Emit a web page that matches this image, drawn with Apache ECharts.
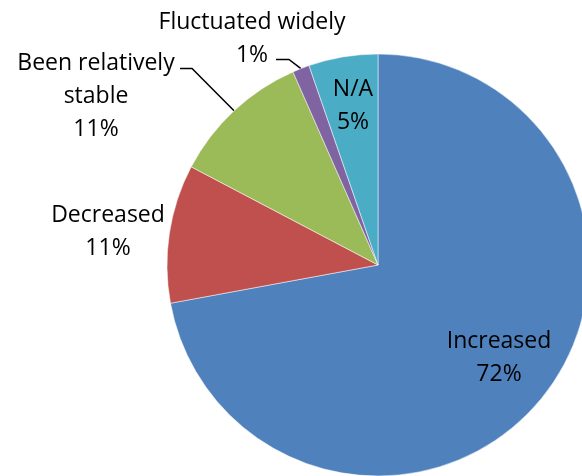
<!DOCTYPE html>
<html>
<head>
<meta charset="utf-8">
<script src="https://cdn.jsdelivr.net/npm/echarts@6/dist/echarts.min.js"></script>
<style>
html,body{margin:0;padding:0;background:#fff;}
#chart{width:582px;height:476px;}
</style>
</head>
<body>
<div id="chart"></div>
<script>
// ---- data ----
const categories = ['Increased', 'Decreased', 'Been relatively stable', 'Fluctuated widely', 'N/A'];
const labelNames = ['Increased', 'Decreased', 'Been relatively\nstable', 'Fluctuated widely', 'N/A'];
const shares = [72.1, 10.6, 10.7, 1.3, 5.3];
const colors = ['#4F81BD', '#C0504D', '#9BBB59', '#8064A2', '#4BACC6'];
const withLine = [false, false, true, true, false];

// label placement (text block centres) and leader-line bends, relative offsets
const labelPos = {
  'Increased': [499, 358],
  'Decreased': [108, 232],
  'Been relatively stable': [96, 96.5],
  'Fluctuated widely': [252, 38.5],
  'N/A': [353, 105.5]
};
const lineBends = {
  'Been relatively stable': [[-42, -42], [-54, -42]],
  'Fluctuated widely': [[-12, -9], [-25, -9]]
};

const crisp = v => Math.round(v - 0.5) + 0.5;

const chart = echarts.init(document.getElementById('chart'), null, {renderer: 'canvas'});
const seriesData = categories.map((c, i) => ({
  name: c,
  value: shares[i],
  itemStyle: {color: colors[i]},
  labelLine: {show: withLine[i]}
}));

chart.setOption({
  animation: false,
  backgroundColor: '#fff',
  series: [{
    type: 'pie',
    center: [378, 265],
    radius: [0, 211],
    startAngle: 90,
    clockwise: true,
    avoidLabelOverlap: false,
    data: seriesData,
    itemStyle: {borderColor: '#ffffff', borderWidth: 0.5},
    label: {
      show: true,
      position: 'outside',
      fontFamily: '"Open Sans", "Noto Sans", sans-serif',
      fontSize: 23,
      lineHeight: 33,
      color: '#000',
      formatter: p => labelNames[p.dataIndex] + '\n' + Math.round(p.percent) + '%'
    },
    labelLine: {
      show: true,
      length: 10,
      length2: 10,
      lineStyle: {color: '#000000', width: 1.5, opacity: 1}
    },
    emphasis: {disabled: true},
    labelLayout: function (params) {
      const name = categories[params.dataIndex];
      const pos = labelPos[name];
      const out = {x: pos[0], y: pos[1], align: 'center', verticalAlign: 'middle'};
      const bends = lineBends[name];
      if (bends && params.labelLinePoints) {
        const p0 = params.labelLinePoints[0];
        const yb = crisp(p0[1] + bends[0][1]);
        out.labelLinePoints = [
          [p0[0], p0[1]],
          [p0[0] + bends[0][0], yb],
          [p0[0] + bends[1][0], yb]
        ];
      }
      return out;
    }
  }]
});
</script>
</body>
</html>
